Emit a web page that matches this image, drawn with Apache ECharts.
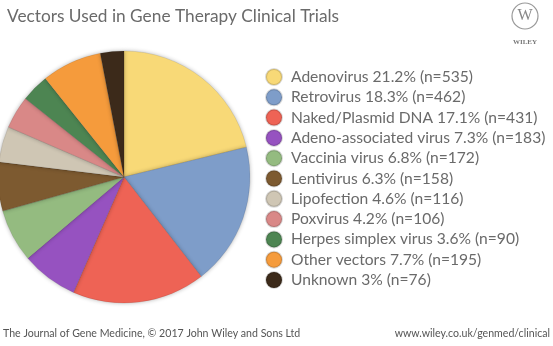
<!DOCTYPE html>
<html>
<head>
<meta charset="utf-8">
<script src="https://cdn.jsdelivr.net/npm/echarts@6/dist/echarts.min.js"></script>
<style>html,body{margin:0;padding:0;background:#fff}#c{width:553px;height:346px}</style>
</head>
<body>
<div id="c"></div>
<script>
const names = ["Adenovirus","Retrovirus","Naked/Plasmid DNA","Adeno-associated virus","Vaccinia virus","Lentivirus","Lipofection","Poxvirus","Herpes simplex virus","Other vectors","Unknown"];
const percents = ["21.2","18.3","17.1","7.3","6.8","6.3","4.6","4.2","3.6","7.7","3"];
const counts = [535,462,431,183,172,158,116,106,90,195,76];
const colors = ["#F8D977","#7E9DC9","#EE6355","#9652C0","#94BB80","#7D5A30","#CFC6B4","#D98887","#4D8552","#F59B3C","#3C2A1A"];

const chart = echarts.init(document.getElementById('c'), null, {renderer:'canvas'});
const font = "Lato, 'Noto Sans', sans-serif";
chart.setOption({
  animation:false,
  backgroundColor:'#fff',
  title:{text:'Vectors Used in Gene Therapy Clinical Trials',left:2,top:3,
    textStyle:{fontFamily:font,fontSize:17.3,fontWeight:'normal',color:'#6a6a6a'}},
  legend:{orient:'vertical',left:260,top:63,itemWidth:16,itemHeight:16,itemGap:2.3,icon:'circle',
    data:names,
    formatter:function(n){const i=names.indexOf(n);return n+' '+percents[i]+'% (n='+counts[i]+')';},
    textStyle:{fontFamily:font,fontSize:15.6,color:'#6a6a6a',lineHeight:16,padding:[0,0,0,4]}},
  series:[{type:'pie',center:[124,177],radius:126,startAngle:90,clockwise:true,
    label:{show:false},labelLine:{show:false},
    itemStyle:{borderColor:'rgba(0,0,0,0.15)',borderWidth:0.5,shadowBlur:4,shadowColor:'rgba(0,0,0,0.3)'},
    emphasis:{disabled:true},
    data:names.map((n,i)=>({name:n,value:counts[i],itemStyle:{color:colors[i]}}))}],
  graphic:[
    {type:'text',left:3,top:328,style:{text:'The Journal of Gene Medicine, \u00A9 2017 John Wiley and Sons Ltd',font:'10.6px '+font,fill:'#555'}},
    {type:'text',right:3,top:328,style:{text:'www.wiley.co.uk/genmed/clinical',font:'10.6px '+font,fill:'#555'}},
    {type:'circle',shape:{cx:525,cy:16,r:13},style:{fill:'none',stroke:'#999',lineWidth:1.2}},
    {type:'text',x:525,y:16,style:{text:'W',font:'16px serif',fill:'#888',align:'center',verticalAlign:'middle'}},
    {type:'text',x:525,y:42,style:{text:'WILEY',font:'bold 7px serif',fill:'#777',align:'center',verticalAlign:'middle'}}
  ]
});
</script>
</body>
</html>
